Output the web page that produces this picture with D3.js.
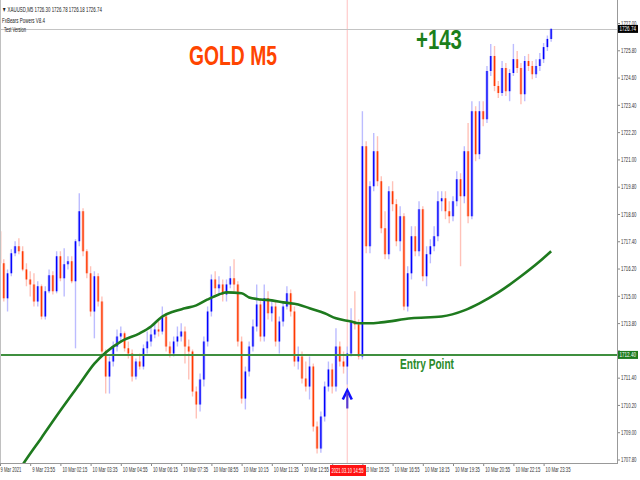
<!DOCTYPE html>
<html><head><meta charset="utf-8">
<script src="https://cdn.jsdelivr.net/npm/d3@7"></script>
<style>
html,body{margin:0;padding:0;background:#fff;}
svg{display:block;}
</style></head><body>
<svg id="c" width="640" height="480"></svg>
<script>
// ---------- data ----------
const headerText = "\u25BC XAUUSD,M5  1726.30 1726.78 1726.18 1726.74";
const indicatorLines = ["FxBears Powers V8.4", "Test Version"];
const titleText = "GOLD M5";
const profitText = "+143";
const entryText = "Entry Point";
const entryPrice = 1712.40;
const signalIndex = 92;
const crosshairLabel = "2021.03.10 14:55";

const opens = [1717.84,1716.43,1714.89,1715.99,1716.87,1717.18,1716.96,1716.16,1715.72,1715.50,
1714.75,1715.42,1714.09,1715.20,1715.90,1715.20,1716.74,1715.77,1716.39,1716.52,
1715.64,1717.40,1718.72,1716.96,1715.99,1714.31,1715.86,1714.75,1712.55,1711.45,
1712.11,1712.77,1713.21,1713.35,1712.69,1712.46,1711.45,1712.11,1711.89,1712.69,
1712.99,1713.30,1713.52,1713.43,1714.09,1712.77,1712.46,1712.99,1713.21,1713.43,
1712.77,1712.55,1710.79,1710.22,1711.32,1712.99,1714.31,1715.72,1715.33,1715.50,
1715.06,1715.50,1715.77,1715.50,1712.99,1710.48,1711.67,1712.77,1713.65,1714.62,
1713.21,1714.89,1714.23,1714.53,1712.99,1713.87,1714.53,1715.11,1714.31,1712.11,
1712.33,1711.36,1711.01,1711.89,1709.25,1708.28,1709.69,1711.01,1711.76,1711.01,
1712.77,1712.11,1711.89,1712.46,1713.87,1713.74,1712.33,1721.58,1717.18,1719.82,
1721.36,1720.04,1717.97,1716.83,1719.60,1719.03,1717.40,1718.50,1714.53,1715.99,
1717.62,1716.96,1718.81,1715.86,1716.83,1717.18,1717.62,1719.16,1719.29,1718.72,
1718.50,1719.16,1720.13,1719.38,1721.36,1718.50,1723.12,1721.23,1723.12,1722.77,
1724.89,1725.55,1724.23,1723.92,1725.02,1724.00,1724.80,1725.41,1725.02,1723.87,
1725.33,1725.11,1724.75,1725.11,1725.41,1725.94,1726.30];
const highs = [1718.06,1716.61,1716.16,1717.05,1717.40,1717.53,1717.18,1716.43,1716.08,1715.99,
1715.64,1715.50,1715.42,1716.16,1716.08,1716.96,1716.96,1717.09,1716.74,1716.74,
1717.49,1719.51,1718.85,1717.05,1716.30,1716.08,1715.99,1714.97,1712.64,1712.33,
1712.99,1713.52,1713.65,1713.43,1712.99,1712.64,1712.24,1712.46,1712.86,1713.43,
1713.65,1713.79,1713.87,1714.53,1714.23,1712.99,1713.21,1713.65,1713.79,1713.65,
1713.08,1712.64,1711.01,1711.58,1713.21,1714.53,1715.94,1716.08,1715.86,1715.72,
1715.72,1716.30,1716.61,1715.64,1713.21,1711.89,1712.99,1713.96,1715.50,1714.84,
1715.50,1715.20,1714.84,1714.75,1714.09,1714.75,1715.42,1715.28,1714.53,1712.77,
1712.55,1712.11,1712.33,1712.02,1709.47,1709.91,1711.23,1712.11,1712.02,1713.57,
1712.99,1712.55,1712.77,1714.45,1715.20,1713.96,1723.12,1721.80,1720.04,1722.16,
1722.02,1720.26,1718.72,1719.82,1720.04,1719.25,1718.94,1718.63,1716.30,1718.06,
1718.06,1719.16,1718.94,1717.18,1717.49,1718.06,1719.60,1719.60,1719.60,1719.16,
1719.38,1720.48,1720.39,1721.58,1722.60,1723.56,1723.34,1723.56,1723.56,1725.11,
1726.08,1725.99,1724.45,1725.33,1725.24,1724.97,1726.08,1725.77,1725.24,1725.55,
1725.64,1725.33,1725.41,1725.68,1726.12,1726.45,1726.78];
const lows = [1716.30,1714.75,1714.31,1715.86,1716.74,1716.83,1716.08,1715.42,1714.97,1714.53,
1714.53,1713.96,1713.96,1715.11,1715.06,1715.11,1715.64,1714.97,1716.16,1715.55,
1712.69,1717.18,1716.74,1715.77,1714.09,1713.13,1714.53,1712.33,1710.70,1710.70,
1711.89,1712.55,1712.99,1712.55,1712.24,1711.23,1711.32,1711.76,1711.76,1712.46,
1712.77,1713.13,1713.21,1713.30,1712.55,1712.29,1712.33,1712.77,1712.99,1712.02,
1711.32,1710.57,1709.60,1709.91,1711.01,1712.77,1714.09,1715.06,1715.06,1714.75,
1714.75,1715.33,1715.20,1712.77,1710.26,1710.00,1711.45,1712.55,1713.43,1712.99,
1712.99,1713.96,1713.87,1712.77,1712.46,1713.65,1714.40,1714.09,1711.89,1711.76,
1711.14,1710.79,1710.44,1709.03,1708.06,1708.10,1709.47,1710.79,1710.70,1710.79,
1711.89,1711.58,1711.10,1712.33,1713.52,1712.20,1712.20,1716.87,1716.87,1719.60,
1719.82,1717.75,1716.61,1716.61,1718.72,1717.18,1716.96,1714.36,1714.31,1715.72,
1716.74,1716.74,1715.64,1715.42,1716.43,1716.96,1717.40,1718.72,1718.37,1718.19,
1718.28,1718.94,1716.30,1719.07,1718.19,1718.37,1720.92,1721.01,1722.46,1722.60,
1724.67,1724.00,1723.70,1723.79,1723.79,1723.56,1724.67,1724.80,1723.43,1723.56,
1724.89,1724.53,1724.58,1724.89,1725.24,1725.77,1726.18];
const closes = [1716.43,1714.89,1715.99,1716.87,1717.18,1716.96,1716.16,1715.72,1715.50,1714.75,
1715.42,1714.09,1715.20,1715.90,1715.20,1716.74,1715.77,1716.39,1716.52,1715.64,
1717.40,1718.72,1716.96,1715.99,1714.31,1715.86,1714.75,1712.55,1711.45,1712.11,
1712.77,1713.21,1713.35,1712.69,1712.46,1711.45,1712.11,1711.89,1712.69,1712.99,
1713.30,1713.52,1713.43,1714.09,1712.77,1712.46,1712.99,1713.21,1713.43,1712.77,
1712.55,1710.79,1710.22,1711.32,1712.99,1714.31,1715.72,1715.33,1715.50,1715.06,
1715.50,1715.77,1715.50,1712.99,1710.48,1711.67,1712.77,1713.65,1714.62,1713.21,
1714.89,1714.23,1714.53,1712.99,1713.87,1714.53,1715.11,1714.31,1712.11,1712.33,
1711.36,1711.01,1711.89,1709.25,1708.28,1709.69,1711.01,1711.76,1711.01,1712.77,
1712.11,1711.89,1712.46,1713.87,1713.74,1712.33,1721.58,1717.18,1719.82,1721.36,
1720.04,1717.97,1716.83,1719.60,1719.03,1717.40,1718.50,1714.53,1715.99,1717.62,
1716.96,1718.81,1715.86,1716.83,1717.18,1717.62,1719.16,1719.29,1718.72,1718.50,
1719.16,1720.13,1719.38,1721.36,1718.50,1723.12,1721.23,1723.12,1722.77,1724.89,
1725.55,1724.23,1723.92,1725.02,1724.00,1724.80,1725.41,1725.02,1723.87,1725.33,
1725.11,1724.75,1725.11,1725.41,1725.94,1726.30,1726.74];

const maIndex = [0,6,11,16,21,25,28,32,37,40,43,46,49,52,55,58,60,64,66,69,72,75,79,82,86,89,93,95,98,101,109,117,123,127,132,138,143,146];
const maValue = [1705.95,1707.57,1708.76,1709.95,1711.10,1712.02,1712.51,1712.99,1713.35,1713.65,1714.09,1714.31,1714.45,1714.58,1714.84,1715.06,1715.15,1715.11,1714.93,1714.84,1714.80,1714.71,1714.62,1714.45,1714.23,1714.01,1713.87,1713.79,1713.79,1713.83,1714.01,1714.09,1714.36,1714.67,1715.15,1715.86,1716.52,1716.96];

const timeLabels = ["9 Mar 2021","9 Mar 23:55","10 Mar 02:15","10 Mar 03:35","10 Mar 04:55","10 Mar 06:15","10 Mar 07:35","10 Mar 08:55","10 Mar 10:15","10 Mar 11:35","10 Mar 12:55","10 Mar 14:15","10 Mar 15:35","10 Mar 16:55","10 Mar 18:15","10 Mar 19:35","10 Mar 20:55","10 Mar 22:15","10 Mar 23:35"];
const priceTicks = [1707.80,1709.00,1710.20,1711.40,1712.60,1713.80,1715.00,1716.20,1717.40,1718.60,1719.80,1721.00,1722.20,1723.40,1724.60,1725.80,1727.00];

// ---------- layout ----------
const plotR = 617, plotB = 463;
const svg = d3.select("#c");
const FONT = "'Liberation Sans Narrow','Liberation Sans',sans-serif";
const AXFS = 7;
const x = d3.scaleLinear().domain([0, 146]).range([0, 551.15]);
const y = d3.scaleLinear().domain([1707.80, 1727.00]).range([459.5, 23]);

// squeeze a text node horizontally to a target width (keeps glyph height)
function fitWidth(node, w){
  const t = d3.select(node);
  const x0 = +t.attr("x") || 0, y0 = +t.attr("y") || 0;
  const L = node.getComputedTextLength();
  if (!L) return;
  t.attr("x",0).attr("y",0)
   .attr("transform",`translate(${x0},${y0}) scale(${(w/L).toFixed(4)},1)`);
}

svg.append("rect").attr("width",640).attr("height",480).attr("fill","#fff");
svg.append("defs").append("clipPath").attr("id","clip")
  .append("rect").attr("x",0).attr("y",0).attr("width",plotR).attr("height",plotB);

const plot = svg.append("g").attr("clip-path","url(#clip)");

// crosshair vertical line
plot.append("line").attr("x1",x(signalIndex)).attr("x2",x(signalIndex))
  .attr("y1",0).attr("y2",plotB).attr("stroke","#ffcfcf").attr("stroke-width",1.3);

// current price line
const lastClose = closes[closes.length-1];
plot.append("line").attr("x1",0).attr("x2",plotR)
  .attr("y1",Math.round(y(lastClose))+0.5).attr("y2",Math.round(y(lastClose))+0.5)
  .attr("stroke","#c4c4c4").attr("stroke-width",1);

// candles
const candles = closes.map((c,i)=>({i, o:opens[i], h:highs[i], l:lows[i], c}));
const cg = plot.append("g");
cg.selectAll("line.wick").data(candles).join("line").attr("class","wick")
  .attr("x1",d=>x(d.i)).attr("x2",d=>x(d.i))
  .attr("y1",d=>y(d.h)).attr("y2",d=>y(d.l))
  .attr("stroke",d=>d.c>=d.o?"#bcbcff":"#ffc2b8").attr("stroke-width",1.4);
cg.selectAll("rect.halo").data(candles).join("rect").attr("class","halo")
  .attr("x",d=>x(d.i)-1.5).attr("width",3)
  .attr("y",d=>y(Math.max(d.o,d.c)))
  .attr("height",d=>Math.max(1,Math.abs(y(d.o)-y(d.c))))
  .attr("fill",d=>d.c>=d.o?"#8c8cff":"#ff9a88").attr("opacity",0.55);
cg.selectAll("line.body").data(candles).join("line").attr("class","body")
  .attr("x1",d=>x(d.i)).attr("x2",d=>x(d.i))
  .attr("y1",d=>y(d.o)).attr("y2",d=>d.o===d.c? y(d.c)+1 : y(d.c))
  .attr("stroke",d=>d.c>=d.o?"#0000ff":"#ff3a00").attr("stroke-width",1.3);

// entry line
plot.append("line").attr("x1",0).attr("x2",plotR)
  .attr("y1",y(entryPrice)).attr("y2",y(entryPrice))
  .attr("stroke","#3f8f3f").attr("stroke-width",2);

// moving average
const maData = maIndex.map((i,k)=>({i, v:maValue[k]}));
plot.append("path").datum(maData)
  .attr("d", d3.line().x(d=>x(d.i)).y(d=>y(d.v)).curve(d3.curveMonotoneX))
  .attr("fill","none").attr("stroke","#1e7a1e").attr("stroke-width",2.6);

// signal arrow
const ax = x(signalIndex), ay = y(lows[signalIndex]) + 6;
plot.append("path")
  .attr("d",`M${ax-4.5},${ay+9} L${ax},${ay} L${ax+4.5},${ay+9}`)
  .attr("fill","none").attr("stroke","#1010ff").attr("stroke-width",2.6).attr("stroke-linejoin","miter");
plot.append("line").attr("x1",ax).attr("x2",ax).attr("y1",ay+2).attr("y2",ay+18)
  .attr("stroke","#5a3ad0").attr("stroke-width",2.2);

// left border
svg.append("line").attr("x1",0.5).attr("x2",0.5).attr("y1",0).attr("y2",plotB)
  .attr("stroke","#c0c0c0");

// ---------- axes ----------
const yAxis = d3.axisRight(y).tickValues(priceTicks).tickSize(3).tickPadding(1)
  .tickFormat(d=>d.toFixed(2));
const yg = svg.append("g").attr("transform",`translate(${plotR},0)`).call(yAxis);
yg.select(".domain").remove();
yg.selectAll(".tick line").attr("stroke","#888");
yg.selectAll(".tick text").attr("font-family",FONT).attr("font-size",AXFS).attr("fill","#333")
  .each(function(){ fitWidth(this, 15.5); });
// label hidden behind the entry-price box in the reference
yg.selectAll(".tick").filter(d=>Math.abs(y(d)-y(entryPrice))<6).select("text").remove();
svg.append("line").attr("x1",plotR+0.5).attr("x2",plotR+0.5).attr("y1",0).attr("y2",plotB+1)
  .attr("stroke","#999");

const xAxis = d3.axisBottom(x).tickValues(d3.range(0,147,8)).tickSize(3).tickPadding(2)
  .tickFormat(d=>timeLabels[d/8]);
const xg = svg.append("g").attr("transform",`translate(0,${plotB})`).call(xAxis);
xg.select(".domain").remove();
xg.selectAll(".tick line").attr("stroke","#888");
xg.selectAll(".tick text").attr("font-family",FONT).attr("font-size",AXFS).attr("fill","#333")
  .attr("text-anchor","start").attr("x",1.5).attr("y",8.5).attr("dy",null)
  .each(function(d){ fitWidth(this, timeLabels[d/8].length*2.08); });
xg.selectAll(".tick").filter(d=>d===0).select("text")
  .attr("transform",function(){ return d3.select(this).attr("transform").replace("translate(1.5","translate(0"); });
// label fully hidden behind the crosshair time box in the reference
xg.selectAll(".tick").filter(d=>Math.abs(x(d)-x(signalIndex))<10).select("text").remove();
svg.append("line").attr("x1",0).attr("x2",plotR+1).attr("y1",plotB+0.5).attr("y2",plotB+0.5)
  .attr("stroke","#999");

// crosshair time box (drawn over the partly hidden neighbour label)
svg.append("rect").attr("x",330).attr("y",465).attr("width",36).attr("height",11).attr("fill","#ff1212");
svg.append("text").attr("x",331.5).attr("y",473).text(crosshairLabel)
  .attr("font-family",FONT).attr("font-size",AXFS).attr("fill","#fff")
  .each(function(){ fitWidth(this, 32); });

// price boxes
function priceBox(v, fill){
  const yy = y(v);
  svg.append("rect").attr("x",618).attr("y",yy-4).attr("width",20).attr("height",8).attr("fill",fill);
  svg.append("text").attr("x",619.5).attr("y",yy+2.4).text(v.toFixed(2))
    .attr("font-family",FONT).attr("font-size",AXFS).attr("fill","#fff")
    .each(function(){ fitWidth(this, 16.5); });
}
priceBox(lastClose, "#000");
priceBox(entryPrice, "#1d7a1d");

// ---------- texts ----------
svg.append("text").attr("x",2).attr("y",11.5).text(headerText)
  .attr("font-family",FONT).attr("font-size",7).attr("fill","#222")
  .each(function(){ fitWidth(this, 100); });
svg.append("text").attr("x",2).attr("y",22.5).text(indicatorLines[0])
  .attr("font-family",FONT).attr("font-size",7).attr("fill","#222")
  .each(function(){ fitWidth(this, 43); });
svg.append("text").attr("x",4).attr("y",31.5).text(indicatorLines[1])
  .attr("font-family",FONT).attr("font-size",7).attr("fill","#222")
  .each(function(){ fitWidth(this, 22); });

const BIG = "'Liberation Sans',Arial,sans-serif";
svg.append("text").attr("x",189).attr("y",65).text(titleText)
  .attr("font-family",BIG).attr("font-weight","bold")
  .attr("font-size",28).attr("fill","#ff4500")
  .each(function(){ fitWidth(this, 88); });
svg.append("text").attr("x",416).attr("y",49).text(profitText)
  .attr("font-family",BIG).attr("font-weight","bold")
  .attr("font-size",27).attr("fill","#1b7f1b")
  .each(function(){ fitWidth(this, 46); });
svg.append("text").attr("x",400).attr("y",369).text(entryText)
  .attr("font-family",BIG).attr("font-weight","bold")
  .attr("font-size",14).attr("fill","#2a8a2a")
  .each(function(){ fitWidth(this, 54); });
</script>
</body></html>
